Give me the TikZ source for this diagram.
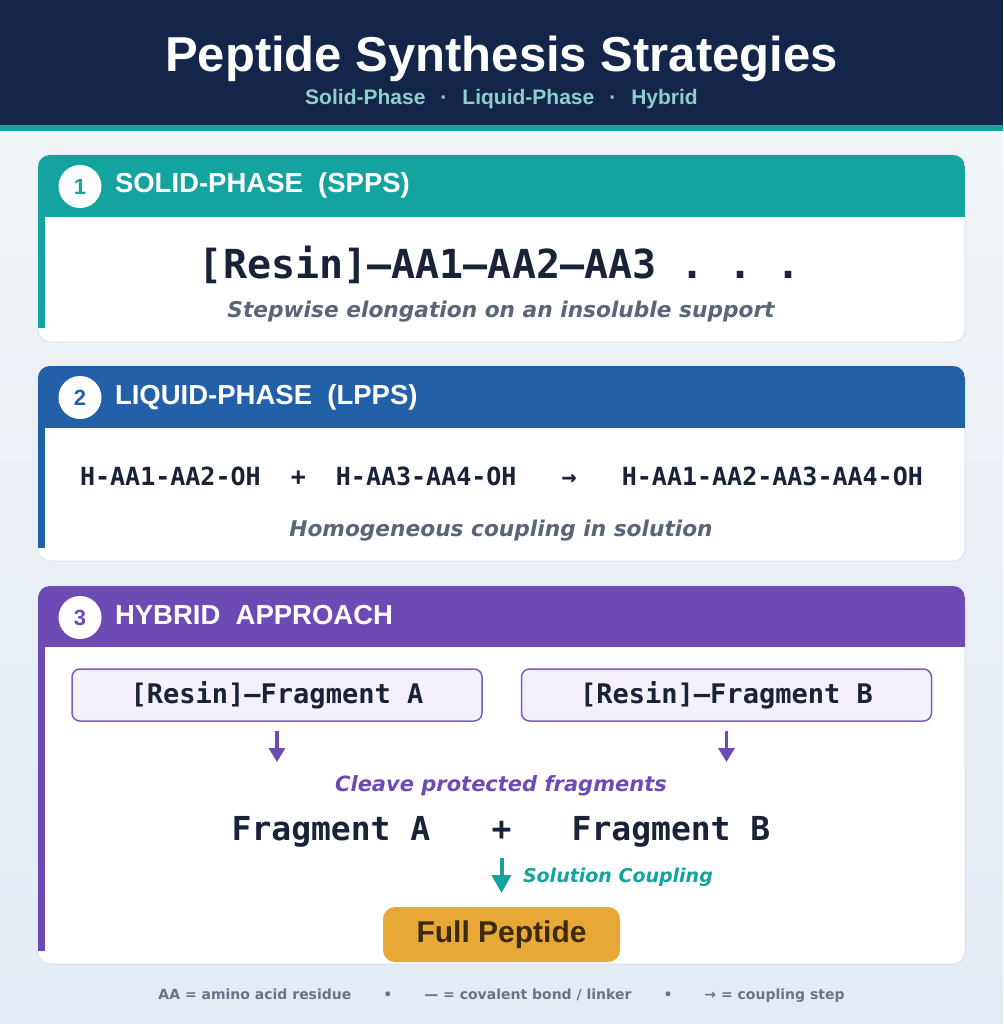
\documentclass[tikz,border=0pt]{standalone}
\usepackage{fontspec}
\setmainfont{Liberation Sans}
\setmonofont{DejaVu Sans Mono}
\newfontfamily\dejavu{DejaVu Sans}
\usetikzlibrary{arrows.meta,positioning}

\definecolor{navy}{HTML}{13264A}
\definecolor{tealc}{HTML}{14A39F}
\definecolor{bluec}{HTML}{2261A8}
\definecolor{purplec}{HTML}{6C4CB4}
\definecolor{orangec}{HTML}{E8A838}
\definecolor{brownc}{HTML}{3A2A0E}
\definecolor{inkc}{HTML}{1A2238}
\definecolor{grayc}{HTML}{5B6578}
\definecolor{subc}{HTML}{8FCFCB}
\definecolor{footc}{HTML}{6B7385}
\definecolor{cardline}{HTML}{DCE3EC}
\definecolor{boxfill}{HTML}{F4F1FA}
\definecolor{boxline}{HTML}{7B5DC2}
\definecolor{bgtop}{HTML}{F2F5F8}
\definecolor{bgbot}{HTML}{E3EBF4}

\newcommand{\pxsize}[1]{\fontsize{#1pt}{#1pt}\selectfont}

\begin{document}
\begin{tikzpicture}[x=1pt, y=-1pt, every node/.style={inner sep=0pt, outer sep=0pt},
    card/.style={fill=white, draw=cardline, line width=1pt, rounded corners=12pt},
    numdot/.style={circle, fill=white, minimum size=43pt, font=\pxsize{22}\bfseries},
    headtxt/.style={anchor=base west, text=white, font=\pxsize{27.5}\bfseries},
    descr/.style={anchor=base, font=\dejavu\bfseries\itshape\pxsize{21.7}},
    fragbox/.style={draw=boxline, line width=1.5pt, fill=boxfill, rounded corners=8pt, minimum width=410pt, minimum height=52pt, text=inkc, font=\ttfamily\bfseries\pxsize{27}},
    cleavearrow/.style={-{Triangle[width=16pt,length=14pt]}, line width=3.3pt, purplec},
    couplearrow/.style={-{Triangle[width=19pt,length=18pt]}, line width=4pt, tealc}]
    \shade[top color=bgtop, bottom color=bgbot] (0,0) rectangle (1003,1024);
    \useasboundingbox (0,0) rectangle (1003,1024);
    \fill[navy] (0,0) rectangle (1003,125);
    \fill[tealc] (0,125) rectangle (1003,131);
    \node[anchor=base, text=white, font=\pxsize{49}\bfseries] (title) at (501.5,72) {Peptide Synthesis Strategies};
    \node[anchor=base, text=subc, font=\pxsize{21}\bfseries] (subtitle) at (501.5,105) {Solid-Phase\hspace{15pt}·\hspace{15pt}Liquid-Phase\hspace{15pt}·\hspace{15pt}Hybrid};

    % solid phase
    \draw[card] (38,155) rectangle (965,342);
    \begin{scope}
        \clip[rounded corners=12pt] (38,155) rectangle (965,342);
        \fill[tealc] (38,155) rectangle (965,217);
        \fill[tealc] (38,217) rectangle (45,328);
    \end{scope}
    \node[numdot, text=tealc] (n1) at (80,186.5) {1};
    \node[headtxt] (h1) at (115,193) {SOLID-PHASE\ \ (SPPS)};
    \node[anchor=base, text=inkc, font=\ttfamily\bfseries\pxsize{40}] (f1) at (500,278) {[Resin]—AA1—AA2—AA3~.~.~.};
    \node[descr, text=grayc] (d1) at (501,317) {Stepwise elongation on an insoluble support};

    % liquid phase
    \draw[card] (38,366) rectangle (965,561);
    \begin{scope}
        \clip[rounded corners=12pt] (38,366) rectangle (965,561);
        \fill[bluec] (38,366) rectangle (965,428);
        \fill[bluec] (38,428) rectangle (45,548);
    \end{scope}
    \node[numdot, text=bluec] (n2) at (80,397.5) {2};
    \node[headtxt] (h2) at (115,404) {LIQUID-PHASE\ \ (LPPS)};
    \node[anchor=base, text=inkc, font=\ttfamily\bfseries\pxsize{25}] (f2) at (501.5,485) {H-AA1-AA2-OH~~+~~H-AA3-AA4-OH~~~→~~~H-AA1-AA2-AA3-AA4-OH};
    \node[descr, text=grayc] (d2) at (501,536) {Homogeneous coupling in solution};

    % hybrid
    \draw[card] (38,586) rectangle (965,964);
    \begin{scope}
        \clip[rounded corners=12pt] (38,586) rectangle (965,964);
        \fill[purplec] (38,586) rectangle (965,647);
        \fill[purplec] (38,647) rectangle (45,951);
    \end{scope}
    \node[numdot, text=purplec] (n3) at (80,617.5) {3};
    \node[headtxt] (h3) at (115,624) {HYBRID\ \ APPROACH};
    \node[fragbox] (fa) at (277,695) {[Resin]—Fragment A};
    \node[fragbox] (fb) at (726.5,695) {[Resin]—Fragment B};
    \coordinate (ca) at (277,762);
    \coordinate (cb) at (726.5,762);
    \draw[cleavearrow, shorten <=10pt] (fa.south) -- (ca);
    \draw[cleavearrow, shorten <=10pt] (fb.south) -- (cb);
    \node[anchor=base, text=purplec, font=\dejavu\bfseries\itshape\pxsize{21}] (cleave) at (501,791) {Cleave protected fragments};
    \node[anchor=base, text=inkc, font=\ttfamily\bfseries\pxsize{33}] (plus) at (501.5,840) {+};
    \node[anchor=base, text=inkc, font=\ttfamily\bfseries\pxsize{33}] (fragA) at (331,840) {Fragment A};
    \node[anchor=base, text=inkc, font=\ttfamily\bfseries\pxsize{33}] (fragB) at (671,840) {Fragment B};
    \node[fill=orangec, rounded corners=12pt, minimum width=237pt, minimum height=55pt, text=brownc, font=\pxsize{30}\bfseries] (full) at (501.5,934.5) {\raisebox{-2pt}{Full Peptide}};
    \draw[couplearrow, shorten <=18pt, shorten >=14pt] (plus.south) -- (plus.south |- full.north);
    \node[anchor=base west, text=tealc, font=\dejavu\bfseries\itshape\pxsize{19}] (solc) at (523,882) {Solution Coupling};

    \node[anchor=base, text=footc, font=\dejavu\bfseries\pxsize{14}] (foot) at (501.5,999) {AA = amino acid residue\hspace{32pt}•\hspace{32pt}— = covalent bond / linker\hspace{32pt}•\hspace{32pt}→ = coupling step};
\end{tikzpicture}
\end{document}
